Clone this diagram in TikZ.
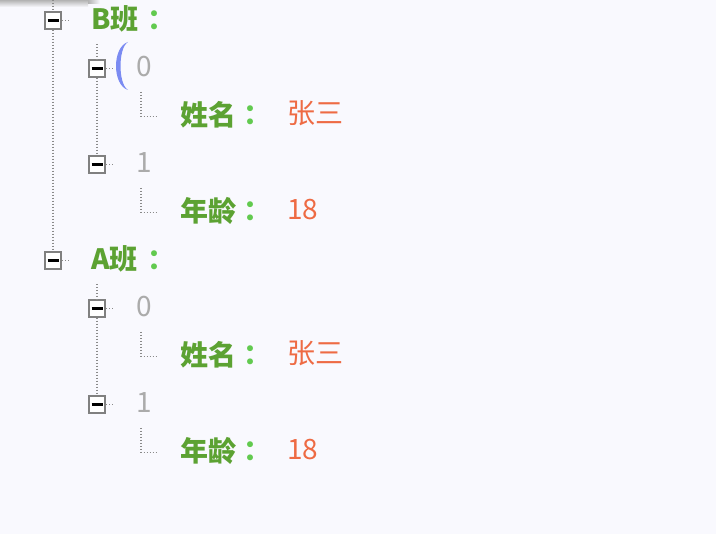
\documentclass[tikz,border=0pt]{standalone}
\usepackage{fontspec}
\setmainfont{Noto Sans CJK SC}
\usetikzlibrary{positioning}
\definecolor{pagebg}{HTML}{F9F9FE}
\definecolor{labgreen}{HTML}{5CA232}
\definecolor{colgreen}{HTML}{62CA4F}
\definecolor{valorange}{HTML}{EE6B44}
\definecolor{idxgray}{HTML}{ABABAB}
\definecolor{boxgray}{HTML}{808080}
\definecolor{dotgray}{HTML}{8A8A8A}
\definecolor{hiblue}{HTML}{7B8BF2}
\begin{document}
\begin{tikzpicture}[x=1pt, y=-1pt,
  tog/.style={draw=boxgray, line width=1.6pt, fill=white,
              minimum size=16.5pt, inner sep=0pt,
              path picture={\draw[black, line width=2.2pt]
                ([xshift=-5.5pt]path picture bounding box.center) --
                ([xshift=5.5pt]path picture bounding box.center);}},
  dotline/.style={draw=dotgray, line width=1.1pt, dash pattern=on 1.1pt off 1.9pt},
  key/.style={font=\fontsize{28}{32}\selectfont\bfseries, text=labgreen,
              anchor=west, inner sep=0pt},
  colon/.style={font=\fontsize{28}{32}\selectfont\bfseries, text=colgreen,
              inner sep=0pt},
  idx/.style={font=\fontsize{28}{32}\selectfont, text=idxgray,
              anchor=west, inner sep=0pt},
  val/.style={font=\fontsize{28}{32}\selectfont, text=valorange,
              anchor=west, inner sep=0pt},
]
% page and size
\fill[pagebg] (0,0) rectangle (716,534);
\useasboundingbox (0,0) rectangle (716,534);
% shadow of the bar above
\shade[top color=black!30, bottom color=pagebg] (0,0) rectangle (88,7);
\shade[left color=black!30, right color=pagebg] (88,0) rectangle (100,4);
% the two classes
\foreach \cls/\dy in {B/0, A/240} {
  \node[tog] (t\cls) at (53, 20.5+\dy) {};
  \node[key] (k\cls) at (91, 19+\dy) {\cls 班};
  \node[colon] (c\cls) at (161.5, 20+\dy) {：};
  \draw[dotline] (t\cls.east) -- ([xshift=8pt]t\cls.east);
  % item 0
  \node[tog] (t\cls0) at (97, 68.5+\dy) {};
  \node[idx] (i\cls0) at (136, 67+\dy) {0};
  \coordinate (u\cls0) at (141, 92+\dy);
  \coordinate (v\cls0) at (158, 116.5+\dy);
  \node[key] (n\cls0) at (180, 114.5+\dy) {姓名};
  \node[colon] (m\cls0) at (257.5, 115+\dy) {：};
  \node[val] (w\cls0) at (287, 113.5+\dy) {张三};
  % item 1
  \node[tog] (t\cls1) at (97, 164.5+\dy) {};
  \node[idx] (i\cls1) at (136, 163+\dy) {1};
  \coordinate (u\cls1) at (141, 188+\dy);
  \coordinate (v\cls1) at (158, 212.5+\dy);
  \node[key] (n\cls1) at (180, 210.5+\dy) {年龄};
  \node[colon] (m\cls1) at (257.5, 211+\dy) {：};
  \node[val] (w\cls1) at (287, 210+\dy) {18};
  % tree lines
  \coordinate (s\cls) at (97, 44+\dy);
  \draw[dotline] (s\cls) -- (t\cls0.north);
  \draw[dotline] (t\cls0.south) -- (t\cls1.north);
  \foreach \k in {0,1} {
    \draw[dotline] (t\cls\k.east) -- ([xshift=7pt]t\cls\k.east);
    \draw[dotline] (u\cls\k) |- (v\cls\k);
  }
}
% outer line
\coordinate (top) at (53,0);
\draw[dotline] (top) -- (tB.north);
\draw[dotline] (tB.south) -- (tA.north);
% hover mark
\fill[hiblue] (128,42) .. controls (112,47) and (112,85) .. (128,90)
  .. controls (118,84) and (118,48) .. (128,42);
\end{tikzpicture}
\end{document}
